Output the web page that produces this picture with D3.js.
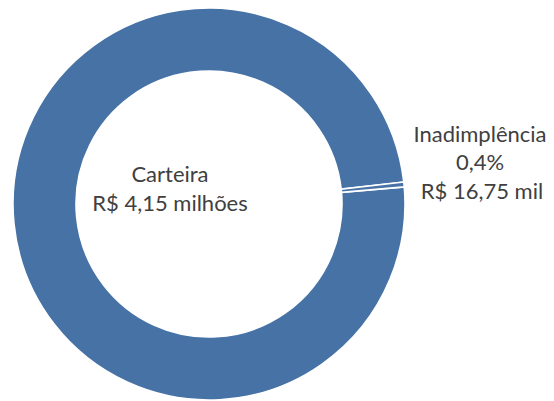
<!DOCTYPE html>
<html>
<head>
<meta charset="utf-8">
<script src="https://d3js.org/d3.v7.min.js"></script>
<style>
  body { margin: 0; background: #fff; }
  text { font-family: Lato, "Liberation Sans", sans-serif; fill: #404040; }
</style>
</head>
<body>
<svg id="chart"></svg>
<script>
// data
var categories = ["Carteira", "Inadimplência"];
var shares = [99.6, 0.4];
var valueLabels = ["R$ 4,15 milhões", "R$ 16,75 mil"];
var pctLabels = ["", "0,4%"];

var width = 554, height = 401;
var cx = 209, cy = 204;
var outerR = 196, innerR = 133;

var svg = d3.select("#chart")
    .attr("width", width)
    .attr("height", height);

var g = svg.append("g")
    .attr("transform", "translate(" + cx + "," + cy + ")");

// rotate so the small slice sits just above 3 o'clock
var start = 85 * Math.PI / 180;
var pie = d3.pie().sort(null)
    .startAngle(start)
    .endAngle(start + 2 * Math.PI);
var arc = d3.arc().innerRadius(innerR).outerRadius(outerR);

var arcs = pie(shares);

g.selectAll(".slice")
    .data(arcs)
    .enter().append("path")
    .attr("class", "slice")
    .attr("d", arc)
    .style("fill", "#4672a6")
    .style("stroke", "#fff")
    .style("stroke-width", 1.6);

// labels
var fs = 22;
// Carteira, inside the hole
var lab1 = svg.append("text")
    .attr("text-anchor", "middle")
    .style("font-size", fs + "px");
lab1.append("tspan").attr("x", 170).attr("y", 182).text(categories[0]);
lab1.append("tspan").attr("x", 170).attr("y", 211).text(valueLabels[0]);

// Inadimplência, outside right
var lab2 = svg.append("text")
    .attr("text-anchor", "middle")
    .style("font-size", fs + "px");
lab2.append("tspan").attr("x", 480).attr("y", 141.5).text(categories[1]);
lab2.append("tspan").attr("x", 480).attr("y", 170).text(pctLabels[1]);
lab2.append("tspan").attr("x", 482).attr("y", 198.5).text(valueLabels[1]);
</script>
</body>
</html>
